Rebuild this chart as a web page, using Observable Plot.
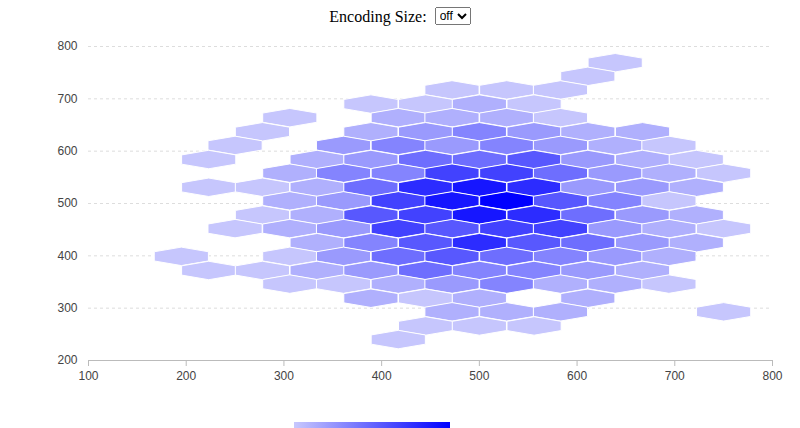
<!DOCTYPE html>
<html><head><meta charset="utf-8">
<script src="https://cdn.jsdelivr.net/npm/d3@7"></script>
<script src="https://cdn.jsdelivr.net/npm/@observablehq/plot@0.6"></script>
<style>
body{margin:0;background:#fff;width:800px;height:428px;position:relative;overflow:hidden}
#hdr{position:absolute;top:7px;left:0;width:800px;text-align:center;font:16px "Liberation Serif",serif;color:#000}
#hdr select{font:12px "Liberation Sans",sans-serif;height:18px;vertical-align:2px;margin-left:4px}
#chart{position:absolute;top:30px;left:0}
#legend{position:absolute;left:294px;top:422px;width:156px;height:6px;background:linear-gradient(to right,#c8c8fd,#0000ff)}
</style></head><body>
<div id="hdr">Encoding Size: <select><option>off</option></select></div>
<div id="chart"></div>
<div id="legend"></div>
<script>
const xTicks = [100,200,300,400,500,600,700,800];
const yTicks = [200,300,400,500,600,700,800];
const hexX = [
 639,
 611,
 472,528,583,
 389,445,500,556,
 306,417,472,528,583,
 278,389,445,500,556,611,667,
 250,361,417,472,528,583,639,694,
 223,334,389,445,500,556,611,667,722,
 306,361,417,472,528,583,639,694,750,
 223,278,334,389,445,500,556,611,667,722,
 306,361,417,472,528,583,639,694,
 278,334,389,445,500,556,611,667,722,
 250,306,361,417,472,528,583,639,694,750,
 334,389,445,500,556,611,667,722,
 195,306,361,417,472,528,583,639,694,
 223,278,334,389,445,500,556,611,667,
 306,361,417,472,528,583,639,694,
 389,445,500,611,
 472,528,583,750,
 445,500,556,
 417];
const hexY = [
 769,
 743,
 717,717,717,
 690,690,690,690,
 664,664,664,664,664,
 637,637,637,637,637,637,637,
 611,611,611,611,611,611,611,611,
 584,584,584,584,584,584,584,584,584,
 558,558,558,558,558,558,558,558,558,
 531,531,531,531,531,531,531,531,531,531,
 505,505,505,505,505,505,505,505,
 478,478,478,478,478,478,478,478,478,
 452,452,452,452,452,452,452,452,452,452,
 425,425,425,425,425,425,425,425,
 399,399,399,399,399,399,399,399,399,
 372,372,372,372,372,372,372,372,372,
 346,346,346,346,346,346,346,346,
 319,319,319,319,
 293,293,293,293,
 266,266,266,
 240];
const hexCount = [
 1,
 1,
 1,1,1,
 1,1,2,1,
 1,2,2,2,1,
 1,2,3,4,3,2,2,
 1,3,4,3,4,3,2,1,
 1,2,3,5,5,6,3,2,1,
 2,4,4,7,7,5,3,2,1,
 1,1,2,5,8,9,8,3,3,2,
 2,3,7,9,10,6,4,1,
 1,2,6,7,9,8,5,3,2,
 1,2,3,7,6,7,7,3,2,1,
 2,4,6,8,6,5,3,2,
 1,1,3,5,6,5,4,3,2,
 1,1,2,3,5,4,4,3,2,
 1,1,2,3,4,2,2,1,
 2,1,2,2,
 2,2,2,1,
 1,1,1,
 1];
const binW = 55.45, binH = 26.47; // hex bin spacing in data units
const cells = hexX.map((x,i)=>({x, y:hexY[i], count:hexCount[i]}));
const W=800,H=360,mL=88,mR=28,mT=16,mB=30;
const hw = binW/2*(W-mL-mR)/(xTicks.at(-1)-xTicks[0]);
const hh = binH/1.5*(H-mT-mB)/(yTicks.at(-1)-yTicks[0]);
const hexSymbol = {draw(ctx){
  ctx.moveTo(0,-hh);ctx.lineTo(hw,-hh/2);ctx.lineTo(hw,hh/2);
  ctx.lineTo(0,hh);ctx.lineTo(-hw,hh/2);ctx.lineTo(-hw,-hh/2);ctx.closePath();
}};
const chart = Plot.plot({
  width:W,height:H,marginLeft:mL,marginRight:mR,marginTop:mT,marginBottom:mB,
  style:{fontFamily:"'Liberation Sans',sans-serif",fontSize:"12px",color:"#444"},
  x:{domain:[100,800]}, y:{domain:[200,800]},
  color:{type:"linear",domain:[1,10],range:["#c6c6fd","#0000ff"]},
  marks:[
    Plot.gridY(yTicks.slice(1),{stroke:"#ddd",strokeOpacity:1,strokeDasharray:"3,3"}),
    Plot.dot(cells,{x:"x",y:"y",fill:"count",stroke:"white",strokeWidth:1,symbol:hexSymbol,r:10}),
    Plot.ruleY([200],{stroke:"#bbb"}),
    Plot.axisX(xTicks,{tickSize:6,stroke:"#bbb",tickPadding:5,label:null,color:"#444"}),
    Plot.axisY(yTicks,{tickSize:0,tickPadding:11,label:null,color:"#444"})
  ]
});
document.getElementById("chart").appendChild(chart);
</script></body></html>
